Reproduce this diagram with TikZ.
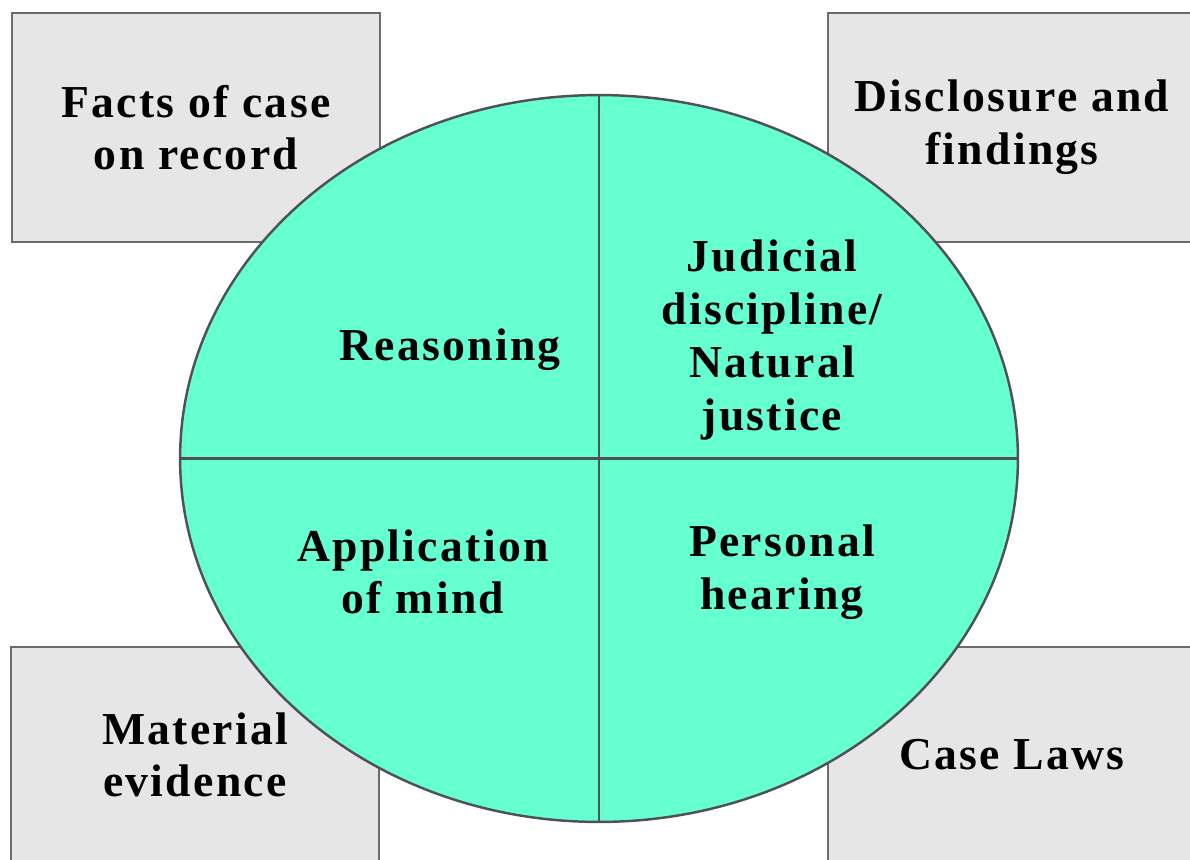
\documentclass[tikz,border=0pt]{standalone}
\usepackage{fontspec}
\setmainfont{Liberation Serif}[LetterSpace=5]
\usepackage{xcolor}
\usetikzlibrary{shapes.geometric}

\definecolor{wheelgreen}{HTML}{66FFD0}
\definecolor{boxgray}{HTML}{E6E6E6}
\definecolor{edgegray}{HTML}{6A6A70}
\definecolor{linegray}{HTML}{505058}

\begin{document}
\begin{tikzpicture}[x=0.02cm, y=-0.02cm]
		% Define styles with simple colors
		\tikzstyle{corner} = [rectangle, minimum width=7.36cm, minimum height=4.58cm, align=center, draw=edgegray, line width=1.1pt, fill=boxgray, font=\fontsize{26}{30}\selectfont\bfseries]
		\tikzstyle{lowcorner} = [corner, minimum height=4.32cm]
		\tikzstyle{wheel} = [ellipse, minimum width=16.76cm, minimum height=14.54cm, draw=linegray, line width=1.4pt, fill=wheelgreen, inner sep=0pt]
		\tikzstyle{quarter} = [align=center, font=\fontsize{26}{30}\selectfont\bfseries]
		\tikzstyle{divider} = [draw=linegray, line width=1.3pt]

		\useasboundingbox (0,0) rectangle (1190,859);

		% Corner boxes
		\node[corner] (facts) at (196,127.5) {Facts of case\\on record};
		\node[corner] (disclosure) at (1012,127.5) {Disclosure and\\findings};
		\node[lowcorner] (material) at (195,755) {Material\\evidence};
		\node[lowcorner] (caselaws) at (1012,755) {Case Laws};

		% Central wheel
		\node[wheel] (centre) at (599,458.5) {};
		\draw[divider] (centre.north) -- (centre.south);
		\draw[divider] (centre.west) -- (centre.east);

		% Quarter labels
		\node[quarter] (reasoning) at (450,350) {Reasoning};
		\node[quarter] (judicial) at (772,340) {Judicial\\discipline/\\Natural\\justice};
		\node[quarter] (application) at (423,572) {Application\\of mind};
		\node[quarter] (hearing) at (782,572) {Personal\\hearing};
	\end{tikzpicture}
\end{document}
